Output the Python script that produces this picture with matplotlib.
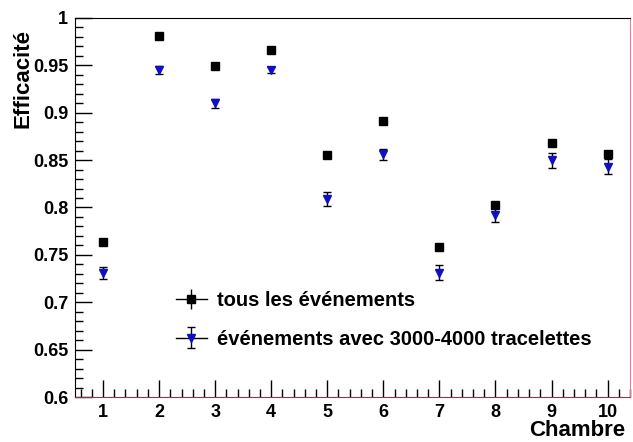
import numpy as np
import matplotlib.pyplot as plt
from matplotlib.ticker import MultipleLocator
from matplotlib.lines import Line2D
from matplotlib.legend_handler import HandlerTuple

plt.rcParams['font.family'] = ['Liberation Sans', 'DejaVu Sans']
plt.rcParams['font.weight'] = 'bold'

chambre = np.arange(1, 11)
tous = [0.764, 0.981, 0.949, 0.966, 0.855, 0.891, 0.758, 0.803, 0.868, 0.856]
tous_err = [0.002, 0.002, 0.002, 0.002, 0.002, 0.002, 0.002, 0.002, 0.002, 0.002]
trace = [0.731, 0.945, 0.910, 0.945, 0.809, 0.856, 0.731, 0.792, 0.850, 0.843]
trace_err = [0.006, 0.004, 0.005, 0.003, 0.007, 0.006, 0.008, 0.007, 0.008, 0.008]

fig = plt.figure(figsize=(6.33, 4.42), dpi=100)
ax = fig.add_axes([75/633, 1-397/442, (630-75)/633, (397-18)/442])

eb1 = ax.errorbar(chambre, tous, yerr=tous_err, fmt='s', color='black', ms=6,
                  elinewidth=1, capsize=0)
eb2 = ax.errorbar(chambre, trace, yerr=trace_err, fmt='v', color='#1010c0', ms=6,
                  ecolor='black', elinewidth=1, capsize=3)

ax.set_xlim(0.5, 10.4)
ax.set_ylim(0.6, 1.0)
ax.xaxis.set_major_locator(MultipleLocator(1))
ax.xaxis.set_minor_locator(MultipleLocator(0.2))
ax.yaxis.set_minor_locator(MultipleLocator(0.01))
ax.set_yticks([0.6, 0.65, 0.7, 0.75, 0.8, 0.85, 0.9, 0.95, 1.0])
ax.set_yticklabels(['0.6', '0.65', '0.7', '0.75', '0.8', '0.85', '0.9', '0.95', '1'])
ax.tick_params(which='major', direction='in', length=12, width=1, labelsize=13)
ax.tick_params(which='minor', direction='in', length=6, width=1)
ax.tick_params(axis='x', pad=5)
ax.tick_params(axis='y', pad=5)
ax.tick_params(top=False, right=False)

ax.spines['bottom'].set_color('#8b3a4a')
ax.spines['right'].set_color('#e080a0')

ax.set_ylabel('Efficacité', fontsize=16, fontweight='bold', loc='top')
ax.set_xlabel('Chambre', fontsize=16, fontweight='bold', loc='right')
ax.xaxis.set_label_coords(0.991, -0.062)
ax.yaxis.set_label_coords(-0.075, 0.97)

# ROOT-style legend entries: horizontal line + error bar + marker
h1 = Line2D([], [], color='black', lw=1)
h2 = Line2D([], [], color='black', lw=1)
leg = ax.legend([(h1, eb1), (h2, eb2)],
                ['tous les événements', 'événements avec 3000-4000 tracelettes'],
                handler_map={tuple: HandlerTuple(ndivide=1)},
                loc='lower left', bbox_to_anchor=(0.15, 0.08), frameon=False,
                fontsize=14.5, handlelength=1.5, handletextpad=0.5, labelspacing=0.95)
for t in leg.get_texts():
    t.set_fontweight('bold')

fig.savefig('out.png', dpi=100)
